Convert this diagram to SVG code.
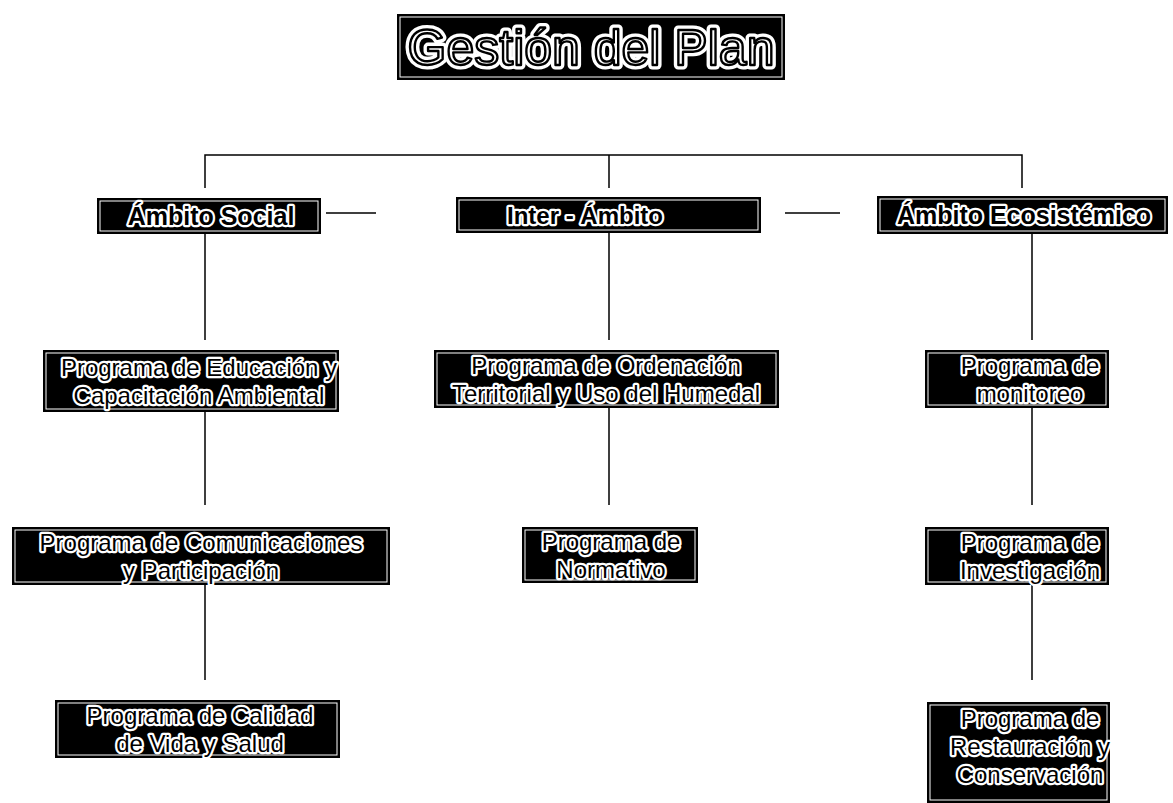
<svg xmlns="http://www.w3.org/2000/svg" width="1173" height="803" viewBox="0 0 1173 803">
  <style>
    .box { fill: #000; }
    .inner { fill: none; stroke: #fff; stroke-width: 1; }
    .conn { fill: none; stroke: #000; stroke-width: 1.5; }
    .lbl { font-family: "Liberation Sans", Arial, sans-serif; font-size: 24px; text-anchor: middle;
           fill: #000; stroke: #fff; stroke-width: 4.5; stroke-linejoin: round; paint-order: stroke; }
    .b { font-weight: bold; font-size: 25px; }
    .ttl-halo { font-family: "Liberation Sans", Arial, sans-serif; font-size: 50px; text-anchor: middle;
                fill: #fff; stroke: #fff; stroke-width: 9; stroke-linejoin: round; }
    .ttl { font-family: "Liberation Sans", Arial, sans-serif; font-size: 50px; text-anchor: middle;
           fill: #fff; stroke: #000; stroke-width: 2.4; stroke-linejoin: round; }
  </style>

  <!-- connectors -->
  <g id="connectors">
    <path class="conn" d="M205,188 V155 H1022 V188 M609,155 V188"/>
    <path class="conn" d="M326,213 H376 M785,213 H840"/>
    <path class="conn" d="M205,234 V340 M609,233 V340 M1032,234 V340"/>
    <path class="conn" d="M205,412 V505 M609,408 V505 M1032,408 V505"/>
    <path class="conn" d="M205,585 V680 M1032,585 V680"/>
  </g>

  <!-- top node -->
  <g id="gestion">
    <rect class="box" x="397" y="14" width="388" height="66"/>
    <rect class="inner" x="400" y="17" width="382" height="60"/>
    <text class="ttl-halo" x="591" y="65">Gestión del Plan</text>
    <text class="ttl" x="591" y="65">Gestión del Plan</text>
  </g>

  <!-- level 1 -->
  <g id="ambito-social">
    <rect class="box" x="97" y="198" width="224" height="36"/>
    <rect class="inner" x="100" y="201" width="218" height="30"/>
    <text class="lbl b" x="211" y="225">Ámbito Social</text>
  </g>
  <g id="inter-ambito">
    <rect class="box" x="456" y="197" width="305" height="36"/>
    <rect class="inner" x="459" y="200" width="299" height="30"/>
    <text class="lbl b" x="585" y="224" style="font-size:24px">Inter - Ámbito</text>
  </g>
  <g id="ambito-ecosistemico">
    <rect class="box" x="877" y="196" width="291" height="38"/>
    <rect class="inner" x="880" y="199" width="285" height="32"/>
    <text class="lbl b" x="1024" y="224">Ámbito Ecosistémico</text>
  </g>

  <!-- level 2 -->
  <g id="educacion">
    <rect class="box" x="43" y="350" width="296" height="62"/>
    <rect class="inner" x="46" y="353" width="290" height="56"/>
    <text class="lbl"><tspan x="199" y="376">Programa de Educación y</tspan><tspan x="199" y="404">Capacitación Ambiental</tspan></text>
  </g>
  <g id="ordenacion">
    <rect class="box" x="434" y="350" width="345" height="58"/>
    <rect class="inner" x="437" y="353" width="339" height="52"/>
    <text class="lbl"><tspan x="606" y="374">Programa de Ordenación</tspan><tspan x="606" y="402">Territorial y Uso del Humedal</tspan></text>
  </g>
  <g id="monitoreo">
    <rect class="box" x="925" y="350" width="184" height="58"/>
    <rect class="inner" x="928" y="353" width="178" height="52"/>
    <text class="lbl"><tspan x="1030" y="374">Programa de</tspan><tspan x="1030" y="402">monitoreo</tspan></text>
  </g>

  <!-- level 3 -->
  <g id="comunicaciones">
    <rect class="box" x="12" y="527" width="378" height="58"/>
    <rect class="inner" x="15" y="530" width="372" height="52"/>
    <text class="lbl"><tspan x="201" y="551">Programa de Comunicaciones</tspan><tspan x="201" y="579">y Participación</tspan></text>
  </g>
  <g id="normativo">
    <rect class="box" x="522" y="527" width="176" height="56"/>
    <rect class="inner" x="525" y="530" width="170" height="50"/>
    <text class="lbl"><tspan x="611" y="550">Programa de</tspan><tspan x="611" y="578">Normativo</tspan></text>
  </g>
  <g id="investigacion">
    <rect class="box" x="925" y="527" width="184" height="58"/>
    <rect class="inner" x="928" y="530" width="178" height="52"/>
    <text class="lbl"><tspan x="1030" y="551">Programa de</tspan><tspan x="1030" y="579">Investigación</tspan></text>
  </g>

  <!-- level 4 -->
  <g id="calidad">
    <rect class="box" x="55" y="700" width="285" height="58"/>
    <rect class="inner" x="58" y="703" width="279" height="52"/>
    <text class="lbl"><tspan x="200" y="724">Programa de Calidad</tspan><tspan x="200" y="752">de Vida y Salud</tspan></text>
  </g>
  <g id="restauracion">
    <rect class="box" x="927" y="702" width="183" height="101"/>
    <rect class="inner" x="930" y="705" width="177" height="95"/>
    <text class="lbl"><tspan x="1030" y="727">Programa de</tspan><tspan x="1030" y="755">Restauración y</tspan><tspan x="1030" y="783">Conservación</tspan></text>
  </g>
</svg>
